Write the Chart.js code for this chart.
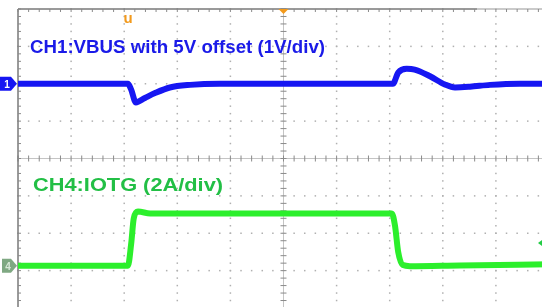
<!DOCTYPE html>
<html>
<head>
<meta charset="utf-8">
<script src="https://cdn.jsdelivr.net/npm/chart.js@4.4.1/dist/chart.umd.min.js"></script>
<style>
  html, body { margin: 0; padding: 0; background: #fff; overflow: hidden; }
  #wrap { width: 560px; height: 310px; }
</style>
</head>
<body>
<div id="wrap"><canvas id="scope" width="560" height="310"></canvas></div>
<script>
// time axis in divisions (10 div across), amplitude in divisions (+-4)
const ch1Time = [0, 2.07, 2.13, 2.22, 2.39, 2.58, 2.86, 3.24, 3.8, 7.06, 7.16, 7.32, 7.47, 7.76, 8.04, 8.23, 8.51, 8.89, 9.45, 10];
const ch1Div  = [2.0, 2.0, 1.85, 1.5, 1.62, 1.75, 1.9, 1.97, 2.0, 2.0, 2.3, 2.4, 2.38, 2.2, 1.98, 1.9, 1.92, 1.97, 2.0, 2.0];

const ch4Time = [0, 2.07, 2.13, 2.18, 2.26, 2.49, 7.04, 7.1, 7.16, 7.25, 7.38, 8.32, 10];
const ch4Div  = [-2.87, -2.87, -2.3, -1.6, -1.42, -1.47, -1.47, -1.8, -2.5, -2.85, -2.88, -2.86, -2.83];

const ch1Label = "CH1:VBUS with 5V offset (1V/div)";
const ch4Label = "CH4:IOTG (2A/div)";

const blue = "#1616f2";
const green = "#2cef2c";

function pts(t, v) {
  return t.map((x, i) => ({ x: x, y: v[i] }));
}

// draw a label stretched to a given width, keeping its height
function wideText(ctx, text, x, y, w) {
  const m = ctx.measureText(text).width;
  ctx.save();
  ctx.translate(x, y);
  ctx.scale(w / m, 1);
  ctx.fillText(text, 0, 0);
  ctx.restore();
}

const scopeGrid = {
  id: "scopeGrid",
  beforeDatasetsDraw(chart) {
    const ctx = chart.ctx;
    const xs = chart.scales.x;
    const ys = chart.scales.y;
    ctx.save();
    // dotted grid
    ctx.fillStyle = "#b0b0b0";
    for (let i = 1; i < 10; i++) {
      if (i == 5) continue;
      const px = xs.getPixelForValue(i);
      for (let j = 0; j <= 40; j++) {
        ctx.fillRect(px - 0.75, ys.getPixelForValue(-4 + j * 0.2) - 0.75, 1.5, 1.5);
      }
    }
    for (let j = 1; j < 8; j++) {
      if (j == 4) continue;
      const py = ys.getPixelForValue(-4 + j);
      for (let i = 0; i <= 50; i++) {
        ctx.fillRect(xs.getPixelForValue(i * 0.2) - 0.75, py - 0.75, 1.5, 1.5);
      }
    }
    // centre crosshair with ticks
    const cx = xs.getPixelForValue(5);
    const cy = ys.getPixelForValue(0);
    ctx.strokeStyle = "#c4c4c4";
    ctx.lineWidth = 1;
    ctx.beginPath();
    ctx.moveTo(xs.getPixelForValue(0), cy); ctx.lineTo(xs.getPixelForValue(10), cy);
    ctx.moveTo(cx, ys.getPixelForValue(4)); ctx.lineTo(cx, ys.getPixelForValue(-4));
    ctx.stroke();
    ctx.strokeStyle = "#8a8a8a";
    ctx.beginPath();
    for (let i = 0; i <= 50; i++) {
      const px = xs.getPixelForValue(i * 0.2);
      ctx.moveTo(px, cy - 3); ctx.lineTo(px, cy + 3);
    }
    for (let j = 0; j <= 40; j++) {
      const py = ys.getPixelForValue(-4 + j * 0.2);
      ctx.moveTo(cx - 3, py); ctx.lineTo(cx + 3, py);
    }
    ctx.stroke();
    // frame
    const left = xs.getPixelForValue(0);
    const top = ys.getPixelForValue(4);
    ctx.strokeStyle = "#7a7a7a";
    ctx.lineWidth = 1.5;
    ctx.beginPath();
    ctx.moveTo(left, top); ctx.lineTo(xs.getPixelForValue(8.65), top);
    ctx.moveTo(left, top); ctx.lineTo(left, ys.getPixelForValue(-4));
    ctx.stroke();
    ctx.strokeStyle = "#b8b8b8";
    ctx.beginPath();
    ctx.moveTo(xs.getPixelForValue(8.65), top); ctx.lineTo(xs.getPixelForValue(10), top);
    ctx.stroke();
    ctx.fillStyle = "#8a8a8a";
    for (let i = 0; i <= 50; i++) {
      ctx.fillRect(xs.getPixelForValue(i * 0.2) - 0.5, top, 1, 3);
    }
    for (let j = 0; j <= 40; j++) {
      ctx.fillRect(left, ys.getPixelForValue(-4 + j * 0.2) - 0.5, 3, 1);
    }
    ctx.restore();
  },
  afterDraw(chart) {
    const ctx = chart.ctx;
    const xs = chart.scales.x;
    const ys = chart.scales.y;
    ctx.save();
    ctx.textBaseline = "middle";
    ctx.font = "bold 18px 'Liberation Sans', Arial, sans-serif";
    ctx.fillStyle = "#1a1ae8";
    wideText(ctx, ch1Label, 30, 48, 295);
    ctx.fillStyle = "#22bf45";
    wideText(ctx, ch4Label, 33, 186, 190);

    // trigger position marker
    ctx.fillStyle = "#f39a1c";
    ctx.font = "bold 15px 'Liberation Sans', Arial, sans-serif";
    ctx.textAlign = "center";
    ctx.fillText("u", 128, 19);
    const cx = xs.getPixelForValue(5);
    const top = ys.getPixelForValue(4);
    ctx.beginPath();
    ctx.moveTo(cx - 5, top); ctx.lineTo(cx + 5, top); ctx.lineTo(cx, top + 5);
    ctx.closePath(); ctx.fill();

    // channel markers
    const y1 = ys.getPixelForValue(2.0);
    ctx.fillStyle = blue;
    ctx.beginPath();
    ctx.moveTo(0, y1 - 7); ctx.lineTo(11, y1 - 7); ctx.lineTo(17, y1); ctx.lineTo(11, y1 + 7); ctx.lineTo(0, y1 + 7);
    ctx.closePath(); ctx.fill();
    ctx.fillStyle = "#ffffff";
    ctx.font = "bold 10px 'Liberation Sans', Arial, sans-serif";
    ctx.fillText("1", 7, y1 + 1);

    const y4 = ys.getPixelForValue(-2.87);
    ctx.fillStyle = "#7fa882";
    ctx.beginPath();
    ctx.moveTo(2, y4 - 7); ctx.lineTo(11, y4 - 7); ctx.lineTo(17, y4); ctx.lineTo(11, y4 + 7); ctx.lineTo(2, y4 + 7);
    ctx.closePath(); ctx.fill();
    ctx.fillStyle = "#d8e8d8";
    ctx.fillText("4", 8, y4 + 1);

    // trigger level marker at right edge
    ctx.fillStyle = "#22cc44";
    const ty = 243;
    ctx.beginPath();
    ctx.moveTo(538, ty); ctx.lineTo(542, ty - 3); ctx.lineTo(542, ty + 3);
    ctx.closePath(); ctx.fill();
    ctx.restore();
  }
};

new Chart(document.getElementById("scope"), {
  type: "line",
  data: {
    datasets: [
      {
        label: "CH1",
        data: pts(ch1Time, ch1Div),
        borderColor: blue,
        borderWidth: 6,
        pointRadius: 0,
        cubicInterpolationMode: "monotone",
        borderCapStyle: "butt"
      },
      {
        label: "CH4",
        data: pts(ch4Time, ch4Div),
        borderColor: green,
        borderWidth: 6,
        pointRadius: 0,
        cubicInterpolationMode: "monotone",
        borderCapStyle: "butt"
      }
    ]
  },
  options: {
    responsive: false,
    animation: false,
    layout: { padding: { left: 18, top: 9, right: 11, bottom: 2 } },
    plugins: { legend: { display: false }, tooltip: { enabled: false } },
    scales: {
      x: { type: "linear", min: 0, max: 10, display: false },
      y: { type: "linear", min: -4, max: 4, display: false }
    }
  },
  plugins: [scopeGrid]
});
</script>
</body>
</html>
